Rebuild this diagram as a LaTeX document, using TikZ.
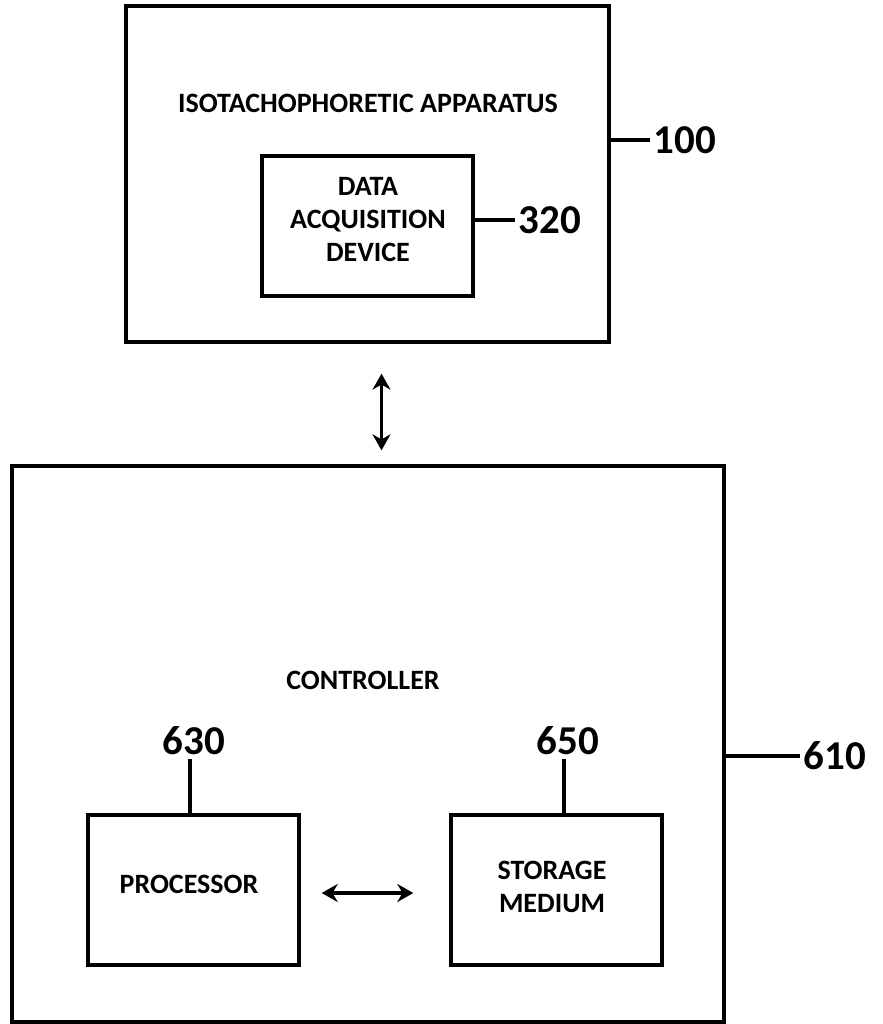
\documentclass[tikz,border=0pt]{standalone}
\usepackage{fontspec}
\setmainfont{Carlito}
\usetikzlibrary{arrows.meta}
\begin{document}
\begin{tikzpicture}[x=0.5pt, y=-0.5pt, line width=1.7pt, >={Stealth[length=8pt,width=9pt]},
    box/.style={draw, inner sep=0pt},
    txt/.style={font=\bfseries\fontsize{14}{16.5}\selectfont, align=center, inner sep=0pt},
    num/.style={font=\bfseries\fontsize{20.5}{24}\selectfont, inner sep=1pt}]
    \useasboundingbox (0,0) rectangle (883,1024);

    \node[box, minimum width=241.5pt, minimum height=168pt] (app) at (367.5, 174) {};
    \node[txt] (apptxt) at (368, 103) {ISOTACHOPHORETIC APPARATUS};
    \node[box, minimum width=105.5pt, minimum height=70pt] (daq) at (367.5, 226) {};
    \node[txt] (daqtxt) at (368, 220) {DATA\\ACQUISITION\\DEVICE};

    \node[box, minimum width=356pt, minimum height=278pt] (ctrl) at (368, 744) {};
    \node[txt] (ctrltxt) at (363, 680) {CONTROLLER};
    \node[box, minimum width=105.5pt, minimum height=75pt] (proc) at (193.5, 890) {};
    \node[txt] (proctxt) at (189, 884) {PROCESSOR};
    \node[box, minimum width=105.5pt, minimum height=75pt] (stor) at (556.5, 890) {};
    \node[txt] (stortxt) at (552, 887) {STORAGE\\MEDIUM};

    \node[num, anchor=west] (n100) at (650, 140) {100};
    \node[num, anchor=west] (n320) at (515, 220) {320};
    \node[num] (n630) at (194, 741) {630};
    \node[num] (n650) at (568, 741) {650};
    \node[num, anchor=west] (n610) at (800, 756) {610};

    \draw (app.east |- n100.west) -- (n100.west);
    \draw (daq.east |- n320.west) -- (n320.west);
    \draw ([xshift=-2pt]n630.south) -- ([xshift=-2pt]n630.south |- proc.north);
    \draw ([xshift=-2pt]n650.south) -- ([xshift=-2pt]n650.south |- stor.north);
    \draw (ctrl.east |- n610.west) -- (n610.west);

    \draw[<->, shorten <=15pt, shorten >=7pt] ([xshift=7pt]app.south) -- ([xshift=7pt]app.south |- ctrl.north);
    \draw[<->, shorten <=10.5pt, shorten >=18pt] ([yshift=-1.5pt]proc.east) -- ([yshift=-1.5pt]stor.west);
\end{tikzpicture}
\end{document}
